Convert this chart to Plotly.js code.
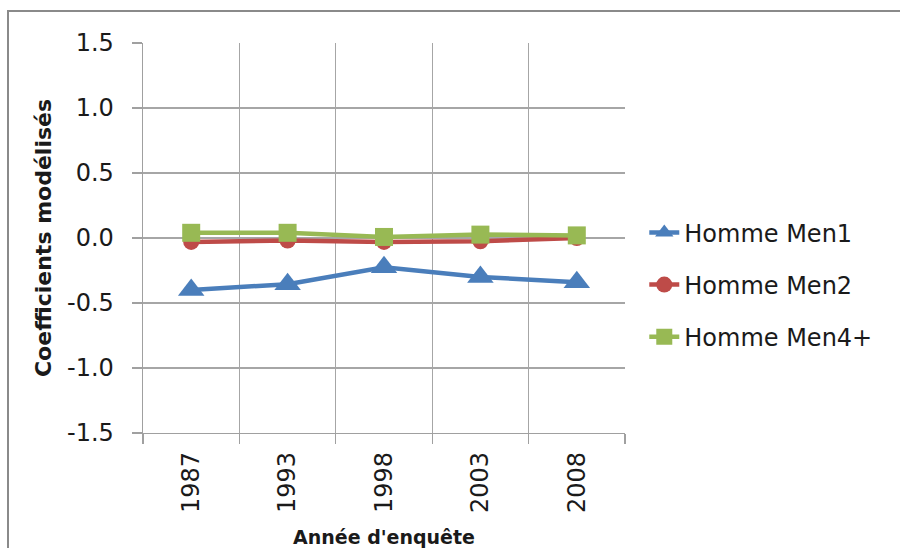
<!DOCTYPE html>
<html>
<head>
<meta charset="utf-8">
<script src="https://cdn.plot.ly/plotly-3.0.1.min.js"></script>
<style>
  html, body { margin: 0; padding: 0; background: #fff; }
  #wrap { position: relative; width: 900px; height: 548px; overflow: hidden; }
  #chart { position: absolute; left: 0; top: 0; width: 900px; height: 548px; }
  #frame { position: absolute; left: 7px; top: 10px; width: 1000px; height: 600px;
           border-left: 2px solid #8a8a8a; border-top: 2px solid #8a8a8a; pointer-events: none; }
</style>
</head>
<body>
<div id="wrap">
  <div id="chart"></div>
  <div id="frame"></div>
</div>
<script>
const years = ["1987", "1993", "1998", "2003", "2008"];
const men1 = [-0.40, -0.355, -0.225, -0.30, -0.34];
const men2 = [-0.03, -0.02, -0.03, -0.025, 0.0];
const men4 = [0.04, 0.04, 0.008, 0.026, 0.02];
const seriesNames = ["Homme Men1", "Homme Men2", "Homme Men4+"];
const yTicks = [-1.5, -1.0, -0.5, 0.0, 0.5, 1.0, 1.5];
const yTickText = ["-1.5", "-1.0", "-0.5", "0.0", "0.5", "1.0", "1.5"];

const FONT = "DejaVu Sans, Arial, sans-serif";

const traces = [
  { x: years, y: men1, name: seriesNames[0], legendgroup: "a", type: "scatter", mode: "lines+markers",
    line: { color: "#4a7ebb", width: 4.5 }, marker: { symbol: "triangle-up", size: 23, color: "#4a7ebb" } },
  { x: years, y: men2, name: seriesNames[1], legendgroup: "b", type: "scatter", mode: "lines+markers",
    line: { color: "#be4b48", width: 4.5 }, marker: { symbol: "circle", size: 16, color: "#be4b48" } },
  { x: years, y: men4, name: seriesNames[2], legendgroup: "c", type: "scatter", mode: "lines+markers",
    line: { color: "#98b954", width: 4.5 }, marker: { symbol: "square", size: 18, color: "#98b954" } }
];

const layout = {
  width: 900, height: 548,
  margin: { l: 143, r: 275, t: 43, b: 115 },
  paper_bgcolor: "#ffffff", plot_bgcolor: "#ffffff",
  font: { family: FONT, size: 24, color: "#1a1a1a" },
  showlegend: true,
  legend: {
    x: 1.04, y: 0.38, xanchor: "left", yanchor: "middle",
    font: { family: FONT, size: 24, color: "#1a1a1a" },
    traceorder: "grouped", tracegroupgap: 18, itemwidth: 30,
    bgcolor: "rgba(0,0,0,0)"
  },
  xaxis: {
    type: "category", categoryorder: "array", categoryarray: years,
    range: [-0.5, 4.5],
    tickson: "boundaries", ticks: "outside", ticklen: 10, tickcolor: "#a0a0a0", tickwidth: 1.3,
    showgrid: true, gridcolor: "#a6a6a6", gridwidth: 1.3,
    showline: true, linecolor: "#a0a0a0", linewidth: 1.3,
    tickangle: -90, tickfont: { family: FONT, size: 24, color: "#1a1a1a" },
    ticklabelstandoff: 8,
    title: { text: "Année d'enquête", font: { family: FONT, size: 19, color: "#1a1a1a", weight: "bold" }, standoff: 20 },
    automargin: false, fixedrange: true
  },
  yaxis: {
    range: [-1.5, 1.5], tickvals: yTicks, ticktext: yTickText,
    ticks: "outside", ticklen: 10, tickcolor: "#a0a0a0", tickwidth: 1.3,
    showgrid: true, gridcolor: "#a6a6a6", gridwidth: 1.3, zeroline: false,
    showline: true, linecolor: "#a0a0a0", linewidth: 1.3,
    tickfont: { family: FONT, size: 24, color: "#1a1a1a" },
    ticklabelstandoff: 13,
    title: { text: "Coefficients modélisés", font: { family: FONT, size: 22, color: "#1a1a1a", weight: "bold" }, standoff: 9 },
    automargin: false, fixedrange: true
  }
};

Plotly.newPlot("chart", traces, layout, { displayModeBar: false, staticPlot: true });
</script>
</body>
</html>
